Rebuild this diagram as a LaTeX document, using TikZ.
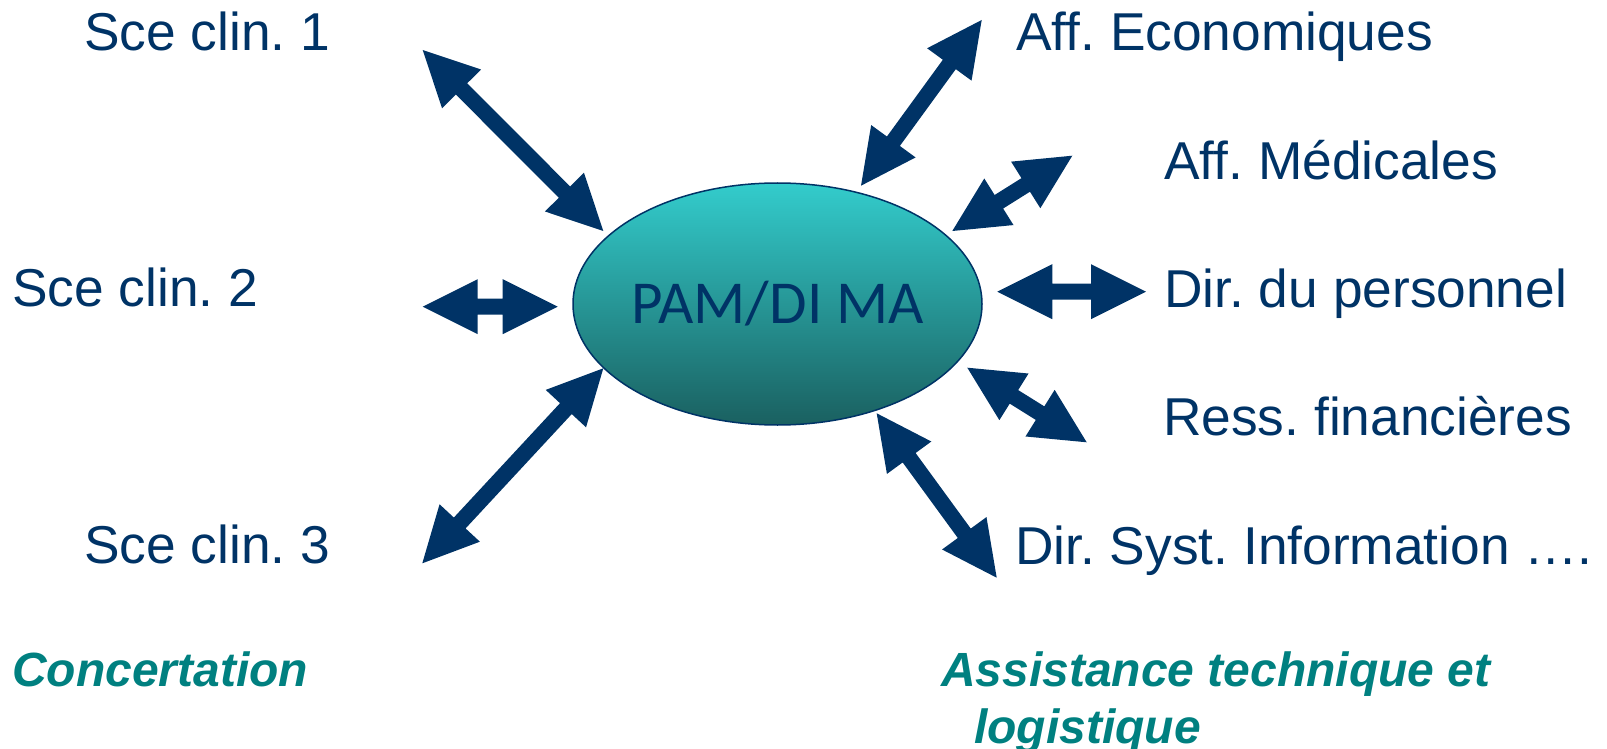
\documentclass[tikz,border=0pt]{standalone}
\usepackage{fontspec}
\setmainfont{Liberation Sans}
\newfontfamily\pamfont{Carlito}
\usetikzlibrary{calc,shapes.geometric}
\frenchspacing

\definecolor{navy}{RGB}{0,51,102}
\definecolor{tealtext}{RGB}{0,128,128}
\definecolor{ovaltop}{RGB}{51,204,204}
\definecolor{ovalmid}{RGB}{42,168,168}
\definecolor{ovalbot}{RGB}{26,96,96}

% head length, half head width, half shaft width of the block arrows
\newcommand\hlen{55pt}
\newcommand\hwid{27.5pt}
\newcommand\swid{8pt}

% filled double-headed block arrow between two named coordinates
\newcommand\blockarrow[2]{%
  \fill[arrowfill] (#1)
    -- ($(#1)!\hlen!(#2)!\hwid!90:(#2)$)
    -- ($(#1)!\hlen!(#2)!\swid!90:(#2)$)
    -- ($(#2)!\hlen!(#1)!\swid!-90:(#1)$)
    -- ($(#2)!\hlen!(#1)!\hwid!-90:(#1)$)
    -- (#2)
    -- ($(#2)!\hlen!(#1)!\hwid!90:(#1)$)
    -- ($(#2)!\hlen!(#1)!\swid!90:(#1)$)
    -- ($(#1)!\hlen!(#2)!\swid!-90:(#2)$)
    -- ($(#1)!\hlen!(#2)!\hwid!-90:(#2)$)
    -- cycle;}

\tikzset{
  arrowfill/.style={fill=navy},
  partner/.style={anchor=base west, inner sep=0pt, text=navy,
    font=\fontsize{53.3}{60}\selectfont},
  heading/.style={anchor=base west, inner sep=0pt, text=tealtext,
    font=\fontsize{48}{57}\selectfont\bfseries\itshape},
  oval/.style={ellipse, draw=navy, line width=1.5pt, inner sep=0pt,
    minimum width=409pt, minimum height=242pt,
    top color=ovaltop, middle color=ovalmid, bottom color=ovalbot},
}

\begin{document}
\begin{tikzpicture}[x=1pt,y=-1pt]
\useasboundingbox (0,0) rectangle (1607,749);

% central unit
\node[oval] (pam) at (777.5,304) {};
\node[anchor=base, inner sep=0pt, text=navy,
      font=\pamfont\fontsize{61}{68}\selectfont] (pamtext) at (777.5,323.5) {PAM/DI MA};

% partners on the left
\node[partner] (sce1) at (84,51)  {Sce clin. 1};
\node[partner] (sce2) at (12,306) {Sce clin. 2};
\node[partner] (sce3) at (84,563) {Sce clin. 3};

% partners on the right
\node[partner] (eco)  at (1016,51)  {Aff. Economiques};
\node[partner] (med)  at (1164,179) {Aff. Médicales};
\node[partner] (pers) at (1164,307) {Dir. du personnel};
\node[partner] (fin)  at (1163,435) {Ress. financières};
\node[partner] (dsi)  at (1015,564) {Dir. Syst. Information ….};

% group headings
\node[heading] (conc) at (12,686)  {Concertation};
\node[heading] (assi) at (941,686) {Assistance technique et};
\node[heading] (logi) at (974,743) {logistique};

% arrow ends
\coordinate (a1s) at (422.7,50);    \coordinate (a1e) at (603.3,231);
\coordinate (a2s) at (861,185.7);   \coordinate (a2e) at (981.7,20);
\coordinate (a3s) at (952.3,231);   \coordinate (a3e) at (1072.3,155.7);
\coordinate (a4s) at (997.3,291.7); \coordinate (a4e) at (1146,291.7);
\coordinate (a5s) at (967.3,367.7); \coordinate (a5e) at (1086.7,442.3);
\coordinate (a6s) at (876.7,413.3); \coordinate (a6e) at (996.7,577.7);
\coordinate (a7s) at (422.7,306.7); \coordinate (a7e) at (557.7,306.7);
\coordinate (a8s) at (422.3,563.3); \coordinate (a8e) at (603.3,368.3);

\blockarrow{a1s}{a1e}
\blockarrow{a2s}{a2e}
\blockarrow{a3s}{a3e}
\blockarrow{a4s}{a4e}
\blockarrow{a5s}{a5e}
\blockarrow{a6s}{a6e}
\blockarrow{a7s}{a7e}
\blockarrow{a8s}{a8e}
\end{tikzpicture}
\end{document}
